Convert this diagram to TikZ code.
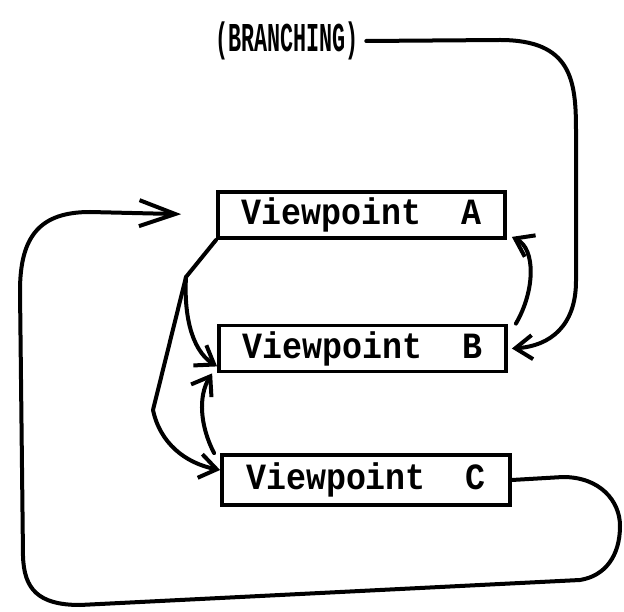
\documentclass[tikz,border=0pt]{standalone}
\usepackage{fontspec}
\usepackage{graphicx}
\setmonofont{Liberation Mono}
\usetikzlibrary{arrows.meta}

\begin{document}
\begin{tikzpicture}[x=1pt,y=1pt]
\tikzset{vbox/.style={draw,line width=3.8pt,minimum width=287pt,minimum height=46pt,inner sep=0pt,font=\fontsize{37}{37}\selectfont\ttfamily\bfseries},
flow/.style={line width=4pt,line cap=round,line join=round,-{Straight Barb[length=17pt,width=24pt,line width=4pt]}},
bigflow/.style={flow,-{Straight Barb[length=36pt,width=26pt,line width=4pt]}}}
\useasboundingbox (0,0) rectangle (624,611);
\node [font=\fontsize{41}{41}\selectfont\ttfamily\bfseries] (br) at (287,570) {\scalebox{0.53}[1]{(BRANCHING)}};
\node [vbox] (A) at (361.5,396) {\scalebox{0.9}[1]{Viewpoint~~A}};
\node [vbox] (B) at (362.5,262.5) {\scalebox{0.9}[1]{Viewpoint~~B}};
\node [vbox,minimum width=288pt,minimum height=50pt] (C) at (366,131) {\scalebox{0.9}[1]{Viewpoint~~C}};
\coordinate (fork) at (186,334);
\draw [flow] ([xshift=4pt]br.east) -- (500,571) .. controls (572,571) and (576,530) .. (576,480) -- (576,330) .. controls (576,285) and (550,265) .. ([xshift=4pt]B.east);
\draw [flow] ([xshift=8pt]B.north east) .. controls (535,320) and (536,362) .. ([xshift=5pt,yshift=3pt]A.south east);
\draw [flow] (A.south west) -- (fork) .. controls (184,300) and (190,262) .. ([yshift=7pt]B.south west);
\draw [flow] (fork) -- (153,201) .. controls (160,168) and (185,148) .. ([yshift=10pt]C.west);
\draw [flow] ([xshift=-6pt]C.north west) .. controls (200,185) and (198,215) .. ([xshift=-5pt]B.south west);
\draw [bigflow,shorten >=35pt] (C.east) -- (563,134) .. controls (600,134) and (620,110) .. (620,85) .. controls (620,55) and (605,35) .. (580,31) -- (80,6) .. controls (38,6) and (24,22) .. (23,55) -- (20,320) .. controls (20,375) and (40,399) .. (90,399) -- (A.west);
\end{tikzpicture}
\end{document}
